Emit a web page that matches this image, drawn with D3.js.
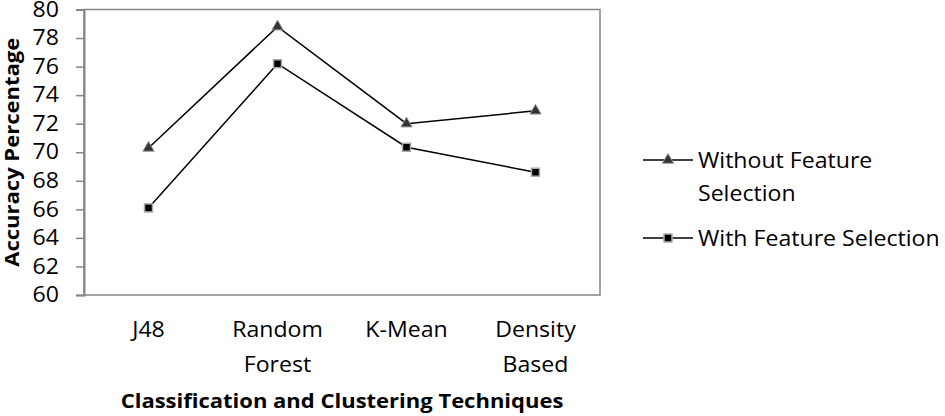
<!DOCTYPE html>
<html>
<head>
<meta charset="utf-8">
<script src="https://cdn.jsdelivr.net/npm/d3@7"></script>
<style>
  body { margin: 0; background: #fff; }
  text { font-family: "Open Sans", sans-serif; fill: #000; }
</style>
</head>
<body>
<div id="chart"></div>
<script>
const width = 945;
const height = 416;

// data
const categories = [["J48"], ["Random", "Forest"], ["K-Mean"], ["Density", "Based"]];
const withoutFS = [70.3, 78.8, 72.0, 72.9];
const withFS = [66.1, 76.2, 70.35, 68.6];
const yTicks = [60, 62, 64, 66, 68, 70, 72, 74, 76, 78, 80];

const plot = { left: 84, top: 9.5, right: 600, bottom: 295 };
const sx = 1.1; // the reference font runs a little wide

const svg = d3.select("#chart")
    .append("svg")
    .attr("width", width)
    .attr("height", height);

const x = d3.scaleBand()
    .domain(d3.range(categories.length))
    .range([plot.left, plot.right]);

const y = d3.scaleLinear()
    .domain([60, 80])
    .range([plot.bottom, plot.top]);

// text placed at (tx, ty), stretched a bit horizontally
function label(g, tx, ty, rot) {
    return g.append("text")
        .attr("transform", `translate(${tx},${ty})${rot ? ` rotate(${rot})` : ""} scale(${sx},1)`);
}

// plot frame
svg.append("rect")
    .attr("x", plot.left)
    .attr("y", plot.top)
    .attr("width", plot.right - plot.left)
    .attr("height", plot.bottom - plot.top)
    .attr("fill", "none")
    .attr("stroke", "#868686")
    .attr("stroke-width", 1.5);

// y axis
const yAxis = svg.append("g")
    .attr("transform", `translate(${plot.left},0)`)
    .call(d3.axisLeft(y).tickValues(yTicks).tickSize(8).tickPadding(17));
yAxis.select(".domain").attr("stroke", "#868686").attr("stroke-width", 2);
yAxis.selectAll(".tick line").attr("stroke", "#868686").attr("stroke-width", 1.5);
yAxis.selectAll(".tick text")
    .attr("x", -25 / sx)
    .attr("transform", `scale(${sx},1)`)
    .style("font-family", "Open Sans")
    .style("font-size", "21px")
    .attr("fill", "#000");

// x labels
categories.forEach((lines, i) => {
    lines.forEach((s, j) => {
        label(svg, x(i) + x.bandwidth() / 2, 337 + j * 35)
            .attr("text-anchor", "middle")
            .style("font-size", "21px")
            .text(s);
    });
});

// axis titles
label(svg, 19, (plot.top + plot.bottom) / 2, -90)
    .attr("text-anchor", "middle")
    .style("font-size", "20px")
    .style("font-weight", "bold")
    .text("Accuracy Percentage");

label(svg, (plot.left + plot.right) / 2, 408)
    .attr("text-anchor", "middle")
    .style("font-size", "20px")
    .style("font-weight", "bold")
    .text("Classification and Clustering Techniques");

// series
const line = d3.line()
    .x((d, i) => x(i) + x.bandwidth() / 2)
    .y(d => y(d));

const triangle = d3.symbol().type(d3.symbolTriangle).size(55);

function drawTri(g, cx, cy) {
    g.append("path")
        .attr("d", triangle)
        .attr("transform", `translate(${cx},${cy})`)
        .attr("fill", "#333")
        .attr("stroke", "#999")
        .attr("stroke-width", 1);
}
function drawSq(g, cx, cy) {
    g.append("rect")
        .attr("x", cx - 4).attr("y", cy - 4)
        .attr("width", 8).attr("height", 8)
        .attr("fill", "#000")
        .attr("stroke", "#aaa")
        .attr("stroke-width", 1.5);
}

[[withoutFS, drawTri], [withFS, drawSq]].forEach(([vals, mark]) => {
    svg.append("path")
        .datum(vals)
        .attr("d", line)
        .attr("fill", "none")
        .attr("stroke", "#000")
        .attr("stroke-width", 1.5);
    const g = svg.append("g");
    vals.forEach((v, i) => mark(g, x(i) + x.bandwidth() / 2, y(v)));
});

// legend
const legend = [
    { lines: ["Without Feature", "Selection"], mark: drawTri, cy: 160, base: 168 },
    { lines: ["With Feature Selection"], mark: drawSq, cy: 238, base: 246 }
];
legend.forEach(l => {
    const g = svg.append("g");
    g.append("line")
        .attr("x1", 643).attr("x2", 693)
        .attr("y1", l.cy).attr("y2", l.cy)
        .attr("stroke", "#000").attr("stroke-width", 1.5);
    l.mark(g, 668, l.cy);
    l.lines.forEach((s, j) => {
        label(g, 698, l.base + j * 33)
            .style("font-size", "21px")
            .text(s);
    });
});
</script>
</body>
</html>
